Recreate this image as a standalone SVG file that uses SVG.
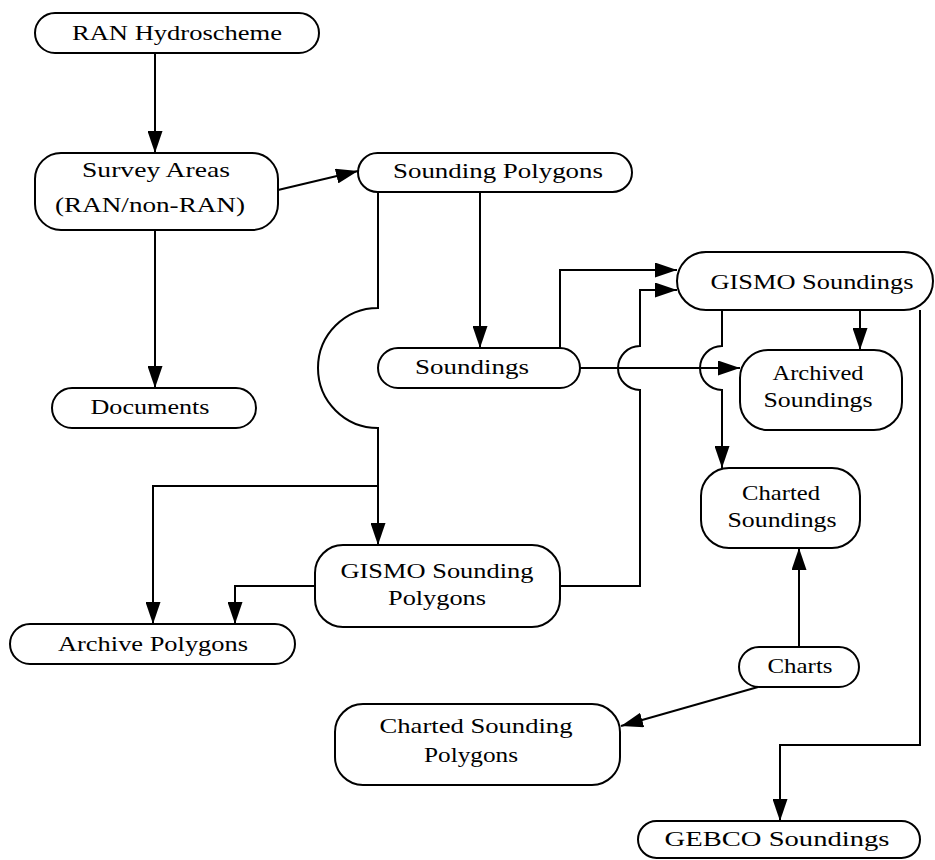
<svg xmlns="http://www.w3.org/2000/svg" width="935" height="860" viewBox="0 0 935 860">
<defs>
<style>
.n rect{fill:#fff;stroke:#000;stroke-width:2}
text{font-family:"Liberation Serif","Times New Roman",serif;font-size:22px;fill:#000;text-anchor:middle}
.c path{fill:none;stroke:#000;stroke-width:2}
</style>
<marker id="ah" markerUnits="userSpaceOnUse" viewBox="0 0 22 15" refX="22" refY="7.5" markerWidth="22" markerHeight="15" orient="auto">
<path d="M0,0 L22,7.5 L0,15 z" fill="#000"/>
</marker>
</defs>
<rect width="935" height="860" fill="#fff"/>
<g class="c">
<path d="M155,53 V153" marker-end="url(#ah)"/>
<path d="M155,230 V388" marker-end="url(#ah)"/>
<path d="M278,190 L358,171" marker-end="url(#ah)"/>
<path d="M480,192 V348" marker-end="url(#ah)"/>
<path d="M378,192 V308 A60,60 0 0 0 378,428 V545" marker-end="url(#ah)"/>
<path d="M378,486 H153 V624" marker-end="url(#ah)"/>
<path d="M315,586 H235 V624" marker-end="url(#ah)"/>
<path d="M560,586 H640 V390 A22,22 0 0 1 640,346 V290 H677" marker-end="url(#ah)"/>
<path d="M560,348 V270 H677" marker-end="url(#ah)"/>
<path d="M580,368 H740" marker-end="url(#ah)"/>
<path d="M722,310 V346 A22,22 0 0 0 722,390 V468" marker-end="url(#ah)"/>
<path d="M860,310 V350" marker-end="url(#ah)"/>
<path d="M920,310 V745 H780 V821" marker-end="url(#ah)"/>
<path d="M799,647 V548" marker-end="url(#ah)"/>
<path d="M758,687 L621,726" marker-end="url(#ah)"/>
</g>
<g id="ran-hydroscheme" class="n"><rect x="35" y="13" width="284" height="40" rx="20"/><text x="177" y="40" textLength="210" lengthAdjust="spacingAndGlyphs">RAN Hydroscheme</text></g>
<g id="survey-areas" class="n"><rect x="35" y="153" width="243" height="77" rx="26"/><text x="156" y="177" textLength="148" lengthAdjust="spacingAndGlyphs">Survey Areas</text><text x="150" y="212" textLength="190" lengthAdjust="spacingAndGlyphs">(RAN/non-RAN)</text></g>
<g id="documents" class="n"><rect x="52" y="388" width="204" height="40" rx="20"/><text x="150" y="414" textLength="119" lengthAdjust="spacingAndGlyphs">Documents</text></g>
<g id="sounding-polygons" class="n"><rect x="358" y="153" width="274" height="39" rx="19.5"/><text x="498" y="178" textLength="210" lengthAdjust="spacingAndGlyphs">Sounding Polygons</text></g>
<g id="soundings" class="n"><rect x="378" y="348" width="202" height="40" rx="20"/><text x="472" y="374" textLength="114" lengthAdjust="spacingAndGlyphs">Soundings</text></g>
<g id="gismo-soundings" class="n"><rect x="677" y="252" width="256" height="58" rx="29"/><text x="812" y="289" textLength="203" lengthAdjust="spacingAndGlyphs">GISMO Soundings</text></g>
<g id="archived-soundings" class="n"><rect x="740" y="350" width="162" height="80" rx="28"/><text x="818" y="380" textLength="91" lengthAdjust="spacingAndGlyphs">Archived</text><text x="818" y="407" textLength="109" lengthAdjust="spacingAndGlyphs">Soundings</text></g>
<g id="charted-soundings" class="n"><rect x="701" y="468" width="159" height="80" rx="28"/><text x="781" y="500" textLength="78" lengthAdjust="spacingAndGlyphs">Charted</text><text x="782" y="527" textLength="109" lengthAdjust="spacingAndGlyphs">Soundings</text></g>
<g id="gismo-sounding-polygons" class="n"><rect x="315" y="545" width="245" height="82" rx="28"/><text x="437" y="578" textLength="193" lengthAdjust="spacingAndGlyphs">GISMO Sounding</text><text x="437" y="605" textLength="98" lengthAdjust="spacingAndGlyphs">Polygons</text></g>
<g id="archive-polygons" class="n"><rect x="10" y="624" width="285" height="40" rx="20"/><text x="153" y="651" textLength="190" lengthAdjust="spacingAndGlyphs">Archive Polygons</text></g>
<g id="charts" class="n"><rect x="739" y="647" width="120" height="40" rx="20"/><text x="800" y="673" textLength="65" lengthAdjust="spacingAndGlyphs">Charts</text></g>
<g id="charted-sounding-polygons" class="n"><rect x="335" y="704" width="285" height="81" rx="28"/><text x="476" y="733" textLength="193" lengthAdjust="spacingAndGlyphs">Charted Sounding</text><text x="471" y="762" textLength="94" lengthAdjust="spacingAndGlyphs">Polygons</text></g>
<g id="gebco-soundings" class="n"><rect x="638" y="821" width="282" height="37" rx="18.5"/><text x="777" y="846" textLength="225" lengthAdjust="spacingAndGlyphs">GEBCO Soundings</text></g>
</svg>
